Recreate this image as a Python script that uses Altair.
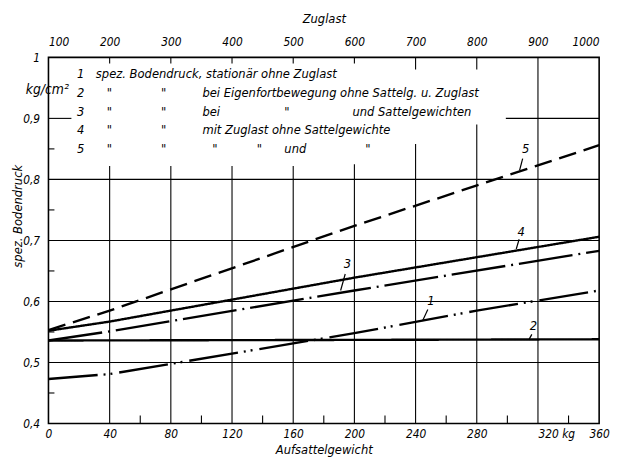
import json
import altair as alt
import pandas as pd

# ---------------- data ----------------
bottom_ticks = [0, 40, 80, 120, 160, 200, 240, 280, 320, 360]
bottom_labels = ["0", "40", "80", "120", "160", "200", "240", "280", "320 kg", "360"]
top_labels = ["100", "200", "300", "400", "500", "600", "700", "800", "900", "1000"]
y_ticks = [0.4, 0.5, 0.6, 0.7, 0.8, 0.9, 1.0]
y_labels = ["0,4", "0,5", "0,6", "0,7", "0,8", "0,9", "1"]

line1_x = [0, 40, 200, 280, 360]
line1_y = [0.473, 0.481, 0.548, 0.585, 0.618]
line2_x = [0, 200, 360]
line2_y = [0.536, 0.537, 0.538]
line3_x = [0, 40, 200, 360]
line3_y = [0.536, 0.551, 0.618, 0.683]
line4_x = [0, 40, 200, 360]
line4_y = [0.552, 0.567, 0.639, 0.706]
line5_x = [0, 40, 200, 360]
line5_y = [0.553, 0.585, 0.724, 0.856]

curve_names = ["1", "2", "3", "4", "5"]

# line labels (number, position) and their leader strokes
lab_text = ["1", "2", "3", "4", "5"]
lab_x = [250, 317, 195.5, 309, 312]
lab_y = [0.600, 0.559, 0.661, 0.713, 0.850]
lead_x0 = [248, 316, 194, 307.7, 310]
lead_y0 = [0.587, 0.546, 0.645, 0.702, 0.834]
lead_x1 = [244.5, 314, 191, 305.8, 308]
lead_y1 = [0.568, 0.537, 0.618, 0.686, 0.815]

# legend block text (row, left px, text)
legend_rows = [
    [(78, "1"), (97, "spez. Bodendruck, stationär ohne Zuglast")],
    [(78, "2"), (108, "\""), (163, "\""), (205, "bei Eigenfortbewegung ohne Sattelg. u. Zuglast")],
    [(78, "3"), (108, "\""), (163, "\""), (205, "bei"), (288, "\""), (357, "und Sattelgewichten")],
    [(78, "4"), (108, "\""), (163, "\""), (205, "mit Zuglast ohne Sattelgewichte")],
    [(78, "5"), (108, "\""), (163, "\""), (215, "\""), (260, "\""), (288, "und"), (370, "\"")],
]
legend_row_y = [72, 91, 110, 129, 148]

# ---------------- layout ----------------
W, H = 558, 371
X0, Y0 = 49, 55  # plot origin in page pixels
FONT = "DejaVu Sans Condensed, DejaVu Sans"
XD = [0, 360]
YD = [0.4, 1.0]


def px2x(px):
    return (px - X0) / W * 360.0


def py2y(py):
    return 1.0 - (py - Y0) / H * 0.6


xs = alt.Scale(domain=XD, nice=False, zero=False)
ys = alt.Scale(domain=YD, nice=False, zero=False)

# grid and tick segments
segs = []
for v in [0.5, 0.6, 0.7, 0.8]:
    segs.append((0, 360, v, v))
segs.append((0, 15, 0.9, 0.9))
segs.append((299, 360, 0.9, 0.9))
vtops = [0.822, 0.822, 0.822, 0.822, 0.825, 0.858, 0.89, 1.0]
for xv, t in zip([40, 80, 120, 160, 200, 240, 280, 320], vtops):
    segs.append((xv, xv, 0.4, t))
for xv, b in zip([40, 80, 120, 160, 200, 240, 280], [0.99] * 5 + [0.98, 0.98]):
    segs.append((xv, xv, b, 1.0))
for v in [0.45, 0.55, 0.65, 0.75, 0.85]:
    segs.append((0, 3.9, v, v))
for xv in [60, 100, 140, 180, 220, 260, 300, 340]:
    segs.append((xv, xv, 0.4, 0.413))
grid_df = pd.DataFrame(segs, columns=["x", "x2", "y", "y2"])

bottom_expr = json.dumps(bottom_labels) + "[round(datum.value/40)]"
top_expr = json.dumps(top_labels) + "[round(datum.value/40)]"
y_expr = json.dumps(y_labels) + "[round((datum.value-0.4)*10)]"

grid = alt.Chart(grid_df).mark_rule(color="black", strokeWidth=1.1).encode(
    x=alt.X("x:Q", scale=xs, axis=alt.Axis(
        orient="bottom", values=bottom_ticks, labelExpr=bottom_expr,
        title="Aufsattelgewicht", labelPadding=5, titlePadding=4,
        labelAlign={"condition": {"test": "datum.value == 320", "value": "left"}, "value": "center"},
    )),
    x2="x2:Q",
    y=alt.Y("y:Q", scale=ys, axis=alt.Axis(
        orient="left", values=y_ticks, labelExpr=y_expr, title=None, labelPadding=9)),
    y2="y2:Q",
)

rows = []
for name, xl, yl in zip(curve_names,
                        [line1_x, line2_x, line3_x, line4_x, line5_x],
                        [line1_y, line2_y, line3_y, line4_y, line5_y]):
    for i, (a, b) in enumerate(zip(xl, yl)):
        rows.append({"curve": name, "order": i, "w": a, "p": b})
lines_df = pd.DataFrame(rows)

lines = alt.Chart(lines_df).mark_line(color="black", strokeWidth=2.4, strokeCap="butt").encode(
    x=alt.X("w:Q", scale=xs, axis=alt.Axis(
        orient="top", values=bottom_ticks, labelExpr=top_expr, title="Zuglast",
        labelPadding=9, titlePadding=10)),
    y=alt.Y("p:Q", scale=ys, axis=None),
    detail="curve:N",
    order="order:Q",
    strokeDash=alt.StrokeDash("curve:N", legend=None, scale=alt.Scale(
        domain=curve_names,
        range=[[50, 6, 2, 5, 2, 7], [1, 0], [55, 6, 2, 6], [1, 0], [18, 8]])),
)

leaders_df = pd.DataFrame({"x": lead_x0, "x2": lead_x1, "y": lead_y0, "y2": lead_y1})
leaders = alt.Chart(leaders_df).mark_rule(color="black", strokeWidth=1.2).encode(
    x=alt.X("x:Q", scale=xs, axis=None), x2="x2:Q",
    y=alt.Y("y:Q", scale=ys, axis=None), y2="y2:Q",
)

labels_df = pd.DataFrame({"t": lab_text, "x": lab_x, "y": lab_y})
labels = alt.Chart(labels_df).mark_text(
    font=FONT, fontSize=13, fontStyle="italic", color="black", baseline="middle", align="center"
).encode(
    x=alt.X("x:Q", scale=xs, axis=None), y=alt.Y("y:Q", scale=ys, axis=None), text="t:N"
)

leg_rows = []
for row, yy in zip(legend_rows, legend_row_y):
    for px, txt in row:
        leg_rows.append({"t": txt, "x": px2x(px), "y": py2y(yy)})
legend_df = pd.DataFrame(leg_rows)
legend = alt.Chart(legend_df).mark_text(
    font=FONT, fontSize=13, fontStyle="italic", color="black", baseline="middle", align="left"
).encode(
    x=alt.X("x:Q", scale=xs, axis=None), y=alt.Y("y:Q", scale=ys, axis=None), text="t:N"
)

unit_df = pd.DataFrame({"t": ["kg/cm²"], "x": [px2x(26)], "y": [py2y(88)]})
unit = alt.Chart(unit_df).mark_text(
    font=FONT, fontSize=14, fontStyle="italic", color="black", baseline="middle", align="left"
).encode(
    x=alt.X("x:Q", scale=xs, axis=None), y=alt.Y("y:Q", scale=ys, axis=None), text="t:N"
)

ytitle_df = pd.DataFrame({"t": ["spez. Bodendruck"], "x": [px2x(18)], "y": [py2y(216)]})
ytitle = alt.Chart(ytitle_df).mark_text(
    font=FONT, fontSize=13, fontStyle="italic", color="black", baseline="middle",
    align="center", angle=270
).encode(
    x=alt.X("x:Q", scale=xs, axis=None), y=alt.Y("y:Q", scale=ys, axis=None), text="t:N"
)

chart = alt.layer(grid, lines, leaders, labels, legend, unit, ytitle).resolve_axis(
    x="independent", y="independent"
).properties(
    width=W, height=H,
    autosize=alt.AutoSizeParams(type="none"),
    padding={"left": 41, "top": 47, "right": 11, "bottom": 37},
    background="white",
).configure_view(
    stroke="black", strokeWidth=1.6
).configure_axis(
    domain=False, ticks=False, grid=False,
    labelFont=FONT, labelFontSize=12, labelFontStyle="italic", labelColor="black",
    titleFont=FONT, titleFontSize=13, titleFontStyle="italic", titleFontWeight="normal",
    titleColor="black",
)

chart.save("out.html", embed_options={"renderer": "svg", "actions": False})
